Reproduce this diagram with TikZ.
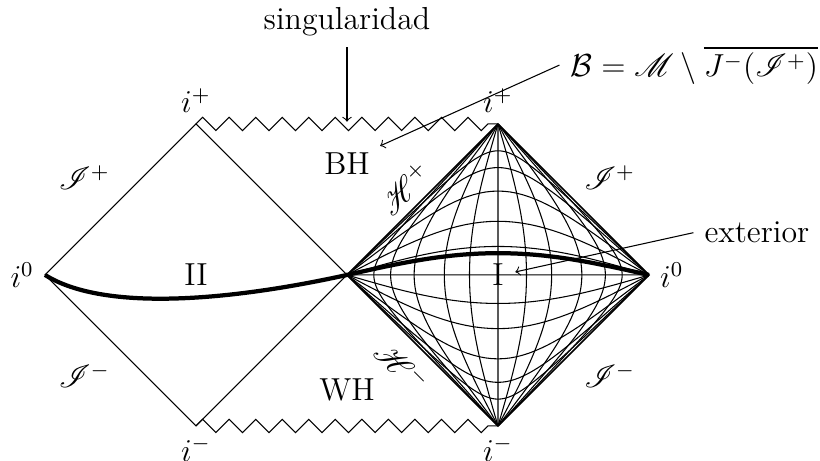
\documentclass[tikz,border=0pt,12pt]{standalone}
\usepackage{amsmath,amssymb,mathrsfs}
\usetikzlibrary{positioning,decorations.pathmorphing}

\begin{document}
\begin{tikzpicture}[
  border/.style={draw, thin},
  horizon/.style={draw, semithick},
  gridline/.style={draw, thin},
  singline/.style={draw, thin, decorate, decoration={zigzag, segment length=10pt, amplitude=2.5pt}},
  slice/.style={draw, ultra thick},
  pointer/.style={->, thin},
  region/.style={inner sep=2pt}
]
\useasboundingbox (-4.596,-2.464) rectangle (6.265,3.642);
\coordinate (izl) at (-4,0);
\coordinate (ipl) at (-2,2);
\coordinate (iml) at (-2,-2);
\coordinate (bif) at (0,0);
\coordinate (ipr) at (2,2);
\coordinate (imr) at (2,-2);
\coordinate (izr) at (4,0);

\foreach \b in {8,13,20,29,36.5,45,53.5,61,70,77,82}{
  \draw[gridline] plot[domain=-7:7, samples=141]
    ({(atan(tan(\b)*exp(\x)) + atan(exp(\x)/tan(\b)))/45}, {(atan(tan(\b)*exp(\x)) - atan(exp(\x)/tan(\b)))/45});
  \draw[gridline] plot[domain=-7:7, samples=141]
    ({(atan(tan(\b)*exp(-\x)) + atan(tan(\b)*exp(\x)))/45}, {(atan(tan(\b)*exp(-\x)) - atan(tan(\b)*exp(\x)))/45});
}

\draw[border] (izl) -- (ipl) -- (bif) -- (iml) -- cycle;
\draw[horizon] (bif) -- (ipr) -- (izr) -- (imr) -- cycle;
\draw[singline] (ipl) -- (ipr);
\draw[singline] (iml) -- (imr);

\draw[slice] (izl) .. controls (-3.2,-0.5) and (-1.5,-0.33) .. (bif)
  -- plot[domain=-7:7, samples=141]
    ({(atan(tan(51.5)*exp(\x)) + atan(exp(\x)/tan(51.5)))/45}, {(atan(tan(51.5)*exp(\x)) - atan(exp(\x)/tan(51.5)))/45})
  -- (izr);

\node[left] (izlabl) at (izl) {$i^0$};
\node[right] (izlabr) at (izr) {$i^0$};
\node[above] (iplabl) at (ipl) {$i^+$};
\node[above] (iplabr) at (ipr) {$i^+$};
\node[below] (imlabl) at (iml) {$i^-$};
\node[below] (imlabr) at (imr) {$i^-$};

\node (scrpl) at (-3.48,1.29) {$\mathscr{I}^+$};
\node (scrml) at (-3.48,-1.33) {$\mathscr{I}^-$};
\node (scrpr) at (3.48,1.29) {$\mathscr{I}^+$};
\node (scrmr) at (3.48,-1.33) {$\mathscr{I}^-$};
\node[rotate=45] (hplus) at (0.77,1.15) {$\mathscr{H}^+$};
\node[rotate=-45] (hminus) at (0.73,-1.21) {$\mathscr{H}^-$};

\node[region] (bh) at (0,1.47) {BH};
\node[region] (wh) at (0,-1.52) {WH};
\node[region] (regII) at (-2,0) {II};
\node[region] (regI) at (2,0) {I};

\node (sing) at (0,3.35) {singularidad};
\coordinate (singtip) at (0,2.03);
\draw[pointer] (sing) -- (singtip);

\node (bdef) at (4.6,2.78) {$\mathcal{B} = \mathscr{M} \setminus \overline{J^-(\mathscr{I}^+)}$};
\coordinate (bhtip) at (0.44,1.71);
\draw[pointer] (bdef.west) -- (bhtip);

\node (ext) at (5.43,0.56) {exterior};
\coordinate (exttip) at (2.23,0.04);
\draw[pointer] (ext.west) -- (exttip);
\end{tikzpicture}
\end{document}
